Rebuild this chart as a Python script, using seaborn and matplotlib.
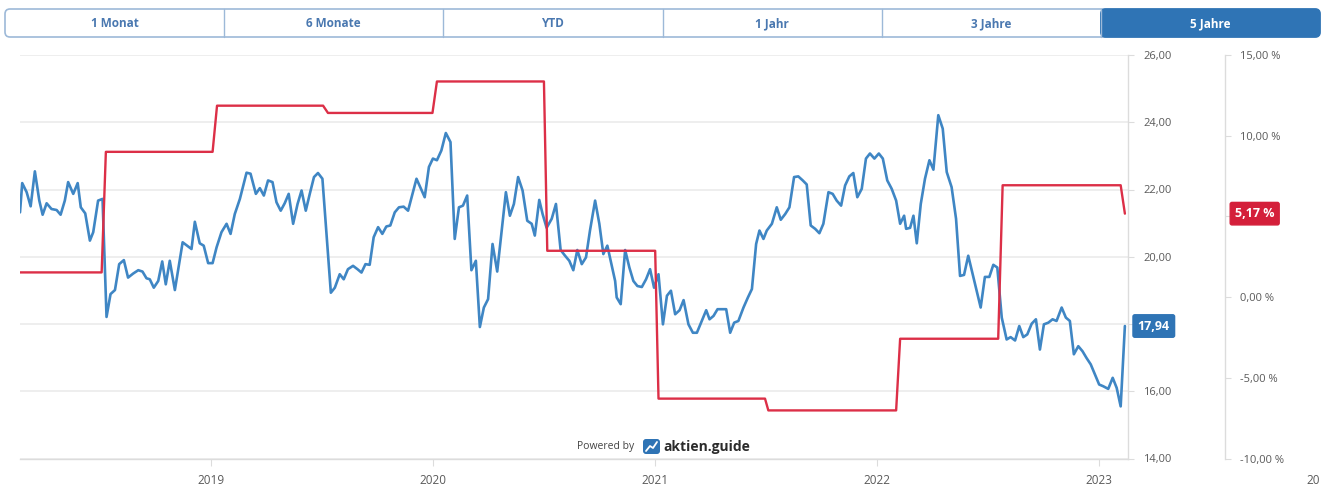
import numpy as np
import pandas as pd
import matplotlib
matplotlib.use("Agg")
import matplotlib.pyplot as plt
import matplotlib.dates as mdates
from matplotlib.patches import FancyBboxPatch, Rectangle
import seaborn as sns

# ---- data -------------------------------------------------------------
# share price (left scale, EUR), weekly closes as decimal years
price_t = [
    2018.140, 2018.150, 2018.170, 2018.188, 2018.207, 2018.227, 2018.242, 2018.260, 2018.282, 2018.305,
    2018.323, 2018.342, 2018.357, 2018.380, 2018.400, 2018.414, 2018.434, 2018.455, 2018.470, 2018.492,
    2018.512, 2018.530, 2018.548, 2018.568, 2018.587, 2018.608, 2018.627, 2018.650, 2018.673, 2018.692,
    2018.710, 2018.725, 2018.743, 2018.763, 2018.781, 2018.797, 2018.815, 2018.838, 2018.873, 2018.913,
    2018.928, 2018.950, 2018.968, 2018.988, 2019.008, 2019.026, 2019.048, 2019.071, 2019.089, 2019.108,
    2019.131, 2019.161, 2019.179, 2019.203, 2019.221, 2019.239, 2019.258, 2019.278, 2019.296, 2019.315,
    2019.333, 2019.351, 2019.371, 2019.391, 2019.409, 2019.428, 2019.446, 2019.465, 2019.483, 2019.503,
    2019.541, 2019.559, 2019.581, 2019.599, 2019.618, 2019.641, 2019.661, 2019.679, 2019.697, 2019.716,
    2019.734, 2019.754, 2019.773, 2019.791, 2019.809, 2019.829, 2019.848, 2019.869, 2019.889, 2019.927,
    2019.964, 2019.983, 2020.001, 2020.019, 2020.039, 2020.059, 2020.080, 2020.099, 2020.118, 2020.136,
    2020.155, 2020.174, 2020.194, 2020.212, 2020.230, 2020.249, 2020.269, 2020.290, 2020.329, 2020.347,
    2020.365, 2020.384, 2020.404, 2020.425, 2020.445, 2020.459, 2020.479, 2020.494, 2020.512, 2020.535,
    2020.554, 2020.575, 2020.595, 2020.614, 2020.632, 2020.650, 2020.670, 2020.689, 2020.707, 2020.730,
    2020.749, 2020.767, 2020.785, 2020.800, 2020.820, 2020.827, 2020.845, 2020.865, 2020.884, 2020.902,
    2020.920, 2020.940, 2020.959, 2020.977, 2020.995, 2021.015, 2021.035, 2021.053, 2021.071, 2021.090,
    2021.110, 2021.128, 2021.150, 2021.170, 2021.188, 2021.210, 2021.230, 2021.245, 2021.263, 2021.281,
    2021.300, 2021.320, 2021.338, 2021.356, 2021.375, 2021.398, 2021.418, 2021.436, 2021.455, 2021.470,
    2021.488, 2021.503, 2021.526, 2021.548, 2021.566, 2021.586, 2021.605, 2021.626, 2021.645, 2021.665,
    2021.683, 2021.701, 2021.721, 2021.740, 2021.758, 2021.781, 2021.800, 2021.818, 2021.838, 2021.856,
    2021.875, 2021.893, 2021.911, 2021.931, 2021.950, 2021.968, 2021.988, 2022.008, 2022.026, 2022.046,
    2022.066, 2022.086, 2022.104, 2022.122, 2022.131, 2022.149, 2022.164, 2022.179, 2022.197, 2022.216,
    2022.236, 2022.254, 2022.276, 2022.296, 2022.314, 2022.336, 2022.356, 2022.374, 2022.392, 2022.411,
    2022.431, 2022.449, 2022.467, 2022.486, 2022.506, 2022.524, 2022.542, 2022.562, 2022.584, 2022.602,
    2022.622, 2022.641, 2022.659, 2022.677, 2022.697, 2022.716, 2022.734, 2022.752, 2022.772, 2022.791,
    2022.809, 2022.832, 2022.851, 2022.869, 2022.887, 2022.907, 2022.926, 2022.944, 2022.963, 2022.982,
    2023.001, 2023.019, 2023.042, 2023.062, 2023.080, 2023.098, 2023.117,
]
price_val = [
    21.32, 22.19, 21.92, 21.50, 22.54, 21.67, 21.25, 21.59, 21.42, 21.39,
    21.25, 21.67, 22.22, 21.87, 22.19, 21.47, 21.29, 20.48, 20.73, 21.67,
    21.72, 18.21, 18.89, 19.01, 19.78, 19.90, 19.38, 19.50, 19.60, 19.56,
    19.36, 19.33, 19.08, 19.28, 19.86, 19.18, 19.88, 19.01, 20.43, 20.23,
    21.04, 20.40, 20.33, 19.81, 19.81, 20.28, 20.73, 20.98, 20.68, 21.27,
    21.72, 22.50, 22.47, 21.87, 22.04, 21.82, 22.27, 22.22, 21.62, 21.37,
    21.59, 21.87, 20.98, 21.57, 21.97, 21.37, 21.87, 22.37, 22.49, 22.32,
    18.93, 19.08, 19.48, 19.33, 19.63, 19.73, 19.63, 19.53, 19.78, 19.76,
    20.58, 20.88, 20.68, 20.90, 20.93, 21.32, 21.47, 21.49, 21.37, 22.32,
    21.77, 22.67, 22.92, 22.87, 23.16, 23.68, 23.41, 20.53, 21.47, 21.52,
    21.82, 19.60, 19.88, 17.91, 18.49, 18.74, 20.38, 19.56, 21.92, 21.22,
    21.57, 22.37, 21.97, 21.07, 20.98, 20.63, 21.69, 21.27, 20.86, 21.13,
    21.57, 20.20, 20.03, 19.88, 19.60, 20.20, 19.78, 19.98, 20.78, 21.67,
    20.98, 20.08, 20.33, 19.88, 19.28, 18.79, 18.59, 20.20, 19.68, 19.28,
    19.13, 19.10, 19.33, 19.63, 19.08, 19.48, 17.99, 18.84, 18.99, 18.29,
    18.41, 18.71, 17.99, 17.74, 17.74, 18.09, 18.41, 18.14, 18.24, 18.44,
    18.44, 18.44, 17.74, 18.04, 18.09, 18.49, 18.79, 19.04, 20.38, 20.78,
    20.53, 20.78, 20.98, 21.47, 21.10, 21.27, 21.47, 22.37, 22.39, 22.27,
    22.15, 20.93, 20.83, 20.70, 20.98, 21.92, 21.87, 21.67, 21.52, 22.12,
    22.39, 22.49, 21.77, 22.02, 22.92, 23.07, 22.92, 23.07, 22.92, 22.27,
    22.02, 21.67, 20.98, 21.22, 20.83, 20.86, 21.22, 20.40, 21.57, 22.32,
    22.87, 22.59, 24.21, 23.81, 22.52, 22.07, 21.13, 19.43, 19.46, 20.03,
    19.48, 18.99, 18.49, 19.40, 19.40, 19.76, 19.68, 18.19, 17.54, 17.61,
    17.51, 17.94, 17.61, 17.69, 18.01, 18.14, 17.24, 17.99, 18.04, 18.14,
    18.09, 18.49, 18.19, 18.09, 17.10, 17.34, 17.19, 16.99, 16.80, 16.50,
    16.20, 16.15, 16.07, 16.40, 16.10, 15.55, 17.94,
]

# performance in percent (right scale), corner points of the step line
perf_t = [
    2018.140, 2018.508, 2018.527, 2019.008, 2019.028, 2019.506, 2019.528,
    2019.999, 2020.019, 2020.500, 2020.515, 2021.000, 2021.015, 2021.495,
    2021.510, 2022.086, 2022.104, 2022.546, 2022.566, 2023.098, 2023.117,
]
perf_val = [
    1.53, 1.53, 9.00, 9.00, 11.86, 11.86, 11.41,
    11.41, 13.36, 13.36, 2.87, 2.87, -6.29, -6.29,
    -7.02, -7.02, -2.58, -2.58, 6.93, 6.93, 5.17,
]

price_ticks = [14, 16, 18, 20, 22, 24, 26]
perf_ticks = [-10, -5, 0, 5, 10, 15]
range_buttons = ["1 Monat", "6 Monate", "YTD", "1 Jahr", "3 Jahre", "5 Jahre"]
active_button = "5 Jahre"

BLUE = "#3f86c4"
RED = "#dc2f47"
BTN_BLUE = "#2f74b5"
GRID = "#e9e9e9"
AXIS = "#dcdcdc"
TEXT = "#5a5a5a"


def decimal_year_to_date(t):
    year = int(np.floor(t))
    start = pd.Timestamp(year=year, month=1, day=1)
    end = pd.Timestamp(year=year + 1, month=1, day=1)
    return start + (end - start) * (t - year)


def de_number(v):
    return f"{v:.2f}".replace(".", ",")


price_df = pd.DataFrame({"date": [decimal_year_to_date(t) for t in price_t],
                         "price": price_val})
perf_df = pd.DataFrame({"date": [decimal_year_to_date(t) for t in perf_t],
                        "perf": perf_val})

last_price = price_val[-1]
last_perf = perf_val[-1]

# ---- figure -----------------------------------------------------------
sns.set_theme(style="white")
plt.rcParams["font.family"] = ["Open Sans", "DejaVu Sans"]

W, H = 1326, 493
fig = plt.figure(figsize=(W / 100, H / 100), dpi=100)
fig.patch.set_facecolor("white")

left, right, top, bottom = 20, 1128, 55, 458.5
ax = fig.add_axes([left / W, 1 - bottom / H, (right - left) / W, (bottom - top) / H])
ax2 = ax.twinx()

sns.lineplot(data=price_df, x="date", y="price", ax=ax, color=BLUE,
             linewidth=1.9, estimator=None, sort=False, zorder=3)
sns.lineplot(data=perf_df, x="date", y="perf", ax=ax2, color=RED,
             linewidth=1.7, estimator=None, sort=False, zorder=3)

ax.set_xlim(decimal_year_to_date(2018.140), decimal_year_to_date(2023.131))

# price scale (on the right of the plot); the label under the badge stays hidden
ax.set_ylim(14, 26)
ax.set_yticks(price_ticks)
ax.set_yticklabels(["" if abs(v - last_price) < 0.6 else de_number(v) for v in price_ticks])
ax.yaxis.tick_right()
ax.grid(axis="y", color=GRID, linewidth=1.1)
ax.grid(axis="x", visible=False)
ax.set_xlabel("")
ax.set_ylabel("")
ax.tick_params(axis="y", right=True, left=False, labelright=True, labelleft=False,
               length=4, width=0.8, color=AXIS, labelsize=8, labelcolor=TEXT, pad=7)

ax.xaxis.set_major_locator(mdates.YearLocator())
ax.xaxis.set_major_formatter(mdates.DateFormatter("%Y"))
ax.tick_params(axis="x", bottom=True, length=5, width=0.8, color=AXIS,
               labelsize=8.5, labelcolor=TEXT, pad=6)

for s in ("left", "top"):
    ax.spines[s].set_visible(False)
for s in ("right", "bottom"):
    ax.spines[s].set_color(AXIS)
    ax.spines[s].set_linewidth(1.0)

# percent scale, offset further right
ax2.set_ylim(-10, 15)
ax2.set_yticks(perf_ticks)
ax2.set_yticklabels(["" if abs(v - last_perf) < 1.0 else de_number(v) + " %"
                     for v in perf_ticks])
ax2.set_ylabel("")
ax2.spines["right"].set_position(("outward", 69.8))
ax2.spines["right"].set_color(AXIS)
ax2.spines["right"].set_linewidth(1.0)
for s in ("left", "top", "bottom"):
    ax2.spines[s].set_visible(False)
ax2.tick_params(axis="y", right=True, length=4, width=0.8, color=AXIS,
                labelsize=8, labelcolor=TEXT, pad=7)
ax2.grid(False)

# last-value badges
ax.annotate(de_number(last_price),
            xy=(1, last_price), xycoords=("axes fraction", "data"),
            xytext=(7, 0), textcoords="offset points", ha="left", va="center",
            fontsize=9, fontweight="bold", color="white", zorder=6,
            bbox=dict(boxstyle="round,pad=0.38,rounding_size=0.15",
                      fc=BTN_BLUE, ec=BTN_BLUE), annotation_clip=False)
ax2.annotate(de_number(last_perf) + " %",
             xy=(1, last_perf), xycoords=("axes fraction", "data"),
             xytext=(77, 0), textcoords="offset points", ha="left", va="center",
             fontsize=9, fontweight="bold", color="white", zorder=6,
             bbox=dict(boxstyle="round,pad=0.38,rounding_size=0.15",
                       fc="#d41f3a", ec="#d41f3a"), annotation_clip=False)

# ---- overlay in pixel coordinates: range buttons, credit line ----------
ov = fig.add_axes([0, 0, 1, 1], facecolor="none")
ov.set_xlim(0, W)
ov.set_ylim(H, 0)
ov.axis("off")

bx0, bx1, by0, by1 = 5, 1320, 9, 37
seg = (bx1 - bx0) / len(range_buttons)
ov.add_patch(FancyBboxPatch((bx0, by0), bx1 - bx0, by1 - by0,
                            boxstyle="round,pad=0,rounding_size=5",
                            fc="white", ec="#9db9d8", lw=1.2, zorder=1))
for i, lab in enumerate(range_buttons):
    sx = bx0 + i * seg
    if lab == active_button:
        ov.add_patch(FancyBboxPatch((sx, by0), seg, by1 - by0,
                                    boxstyle="round,pad=0,rounding_size=5",
                                    fc=BTN_BLUE, ec=BTN_BLUE, lw=1.2, zorder=2))
        ov.add_patch(Rectangle((sx, by0), 8, by1 - by0, fc=BTN_BLUE,
                               ec="none", zorder=2))
        col = "white"
    else:
        col = "#4a78b0"
    if i > 0:
        ov.plot([sx, sx], [by0, by1], color="#9db9d8", lw=1.0, zorder=3)
    ov.text(sx + seg / 2, (by0 + by1) / 2 + 0.5, lab, ha="center", va="center",
            fontsize=8.5, fontweight="bold", color=col, zorder=4)

ov.text(634, 447, "Powered by", ha="right", va="center", fontsize=7.5,
        color="#444444")
ov.add_patch(FancyBboxPatch((643, 439), 17, 15, boxstyle="round,pad=0,rounding_size=3",
                            fc="#2f74b5", ec="none"))
ov.plot([646, 650, 653, 657], [451, 446, 448, 442], color="white", lw=1.3,
        solid_capstyle="round")
ov.text(663, 446.5, "aktien.guide", ha="left", va="center", fontsize=10,
        fontweight="bold", color="#2b2b2b")

ov.text(1306, 480, "20", ha="left", va="center", fontsize=8.5, color=TEXT)

fig.savefig("out.png", dpi=100, facecolor="white")
